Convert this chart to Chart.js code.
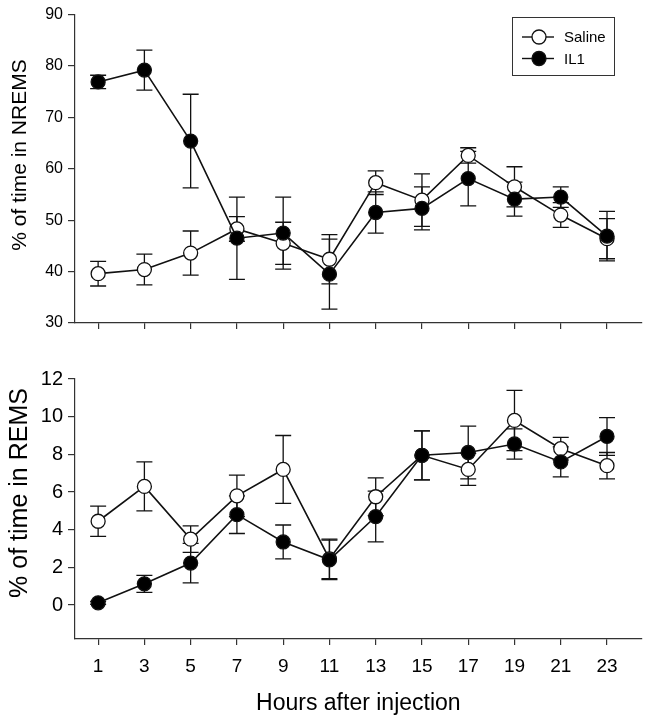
<!DOCTYPE html>
<html>
<head>
<meta charset="utf-8">
<script src="https://cdn.jsdelivr.net/npm/chart.js@4/dist/chart.umd.min.js"></script>
<style>
  body { margin: 0; background: #fff; }
  #wrap { position: relative; width: 650px; height: 720px; }
  #wrap canvas { position: absolute; left: 0; }
</style>
</head>
<body>
<div id="wrap">
  <canvas id="nrem" width="650" height="340" style="top:0"></canvas>
  <canvas id="rem" width="650" height="380" style="top:340px"></canvas>
</div>
<script>
// hours after injection
const hours = [1, 3, 5, 7, 9, 11, 13, 15, 17, 19, 21, 23];

// % of time in NREMS
const nremSaline    = [39.6, 40.4, 43.6, 48.3, 45.5, 42.4, 57.3, 53.9, 62.6, 56.5, 51.0, 46.4];
const nremSalineErr = [2.4, 3.0, 4.3, 2.4, 4.1, 4.8, 2.3, 5.1, 1.5, 3.9, 2.4, 3.9];
const nremIL1       = [76.9, 79.2, 65.4, 46.5, 47.5, 39.5, 51.5, 52.3, 58.1, 54.1, 54.5, 46.9];
const nremIL1Err    = [1.3, 3.9, 9.1, 8.0, 7.0, 6.8, 4.0, 4.2, 5.3, 3.3, 2.0, 4.8];

// % of time in REMS
const remSaline    = [4.45, 6.3, 3.5, 5.8, 7.2, 2.45, 5.75, 7.95, 7.2, 9.8, 8.3, 7.4];
const remSalineErr = [0.8, 1.3, 0.7, 1.1, 1.8, 1.05, 1.0, 1.3, 0.85, 1.6, 0.6, 0.7];
const remIL1       = [0.12, 1.13, 2.23, 4.8, 3.35, 2.4, 4.7, 7.95, 8.1, 8.55, 7.6, 8.95];
const remIL1Err    = [0.08, 0.45, 1.05, 1.0, 0.9, 1.05, 1.35, 1.3, 1.4, 0.8, 0.8, 1.0];

const nremTicks = [30, 40, 50, 60, 70, 80, 90];
const remTicks = [0, 2, 4, 6, 8, 10, 12];
const seriesNames = ['Saline', 'IL1'];

const FONT = "'Liberation Sans', Arial, sans-serif";
const INK = '#111';

function toXY(vals) {
    return vals.map((v, i) => ({ x: hours[i], y: v }));
}

function makeSet(label, vals, errs, filled) {
    return {
        label: label,
        data: toXY(vals),
        errors: errs,
        borderColor: INK,
        borderWidth: 1.6,
        pointRadius: 7,
        pointBorderWidth: 1.3,
        pointBorderColor: INK,
        pointBackgroundColor: filled ? '#000' : '#fff',
        order: filled ? 1 : 2,
        tension: 0
    };
}

// vertical error bars with caps, drawn under the points
const errorBars = {
    id: 'errorBars',
    beforeDatasetsDraw(chart) {
        const ctx = chart.ctx;
        const y = chart.scales.y;
        ctx.save();
        ctx.strokeStyle = INK;
        ctx.lineWidth = 1.3;
        chart.data.datasets.forEach((ds, di) => {
            const meta = chart.getDatasetMeta(di);
            meta.data.forEach((pt, i) => {
                const v = ds.data[i].y, e = ds.errors[i];
                const top = y.getPixelForValue(v + e);
                const bot = y.getPixelForValue(v - e);
                ctx.beginPath();
                ctx.moveTo(pt.x, top); ctx.lineTo(pt.x, bot);
                ctx.moveTo(pt.x - 8, top); ctx.lineTo(pt.x + 8, top);
                ctx.moveTo(pt.x - 8, bot); ctx.lineTo(pt.x + 8, bot);
                ctx.stroke();
            });
        });
        ctx.restore();
    }
};

// boxed legend in the upper right of the top panel
const boxLegend = {
    id: 'boxLegend',
    afterDraw(chart) {
        if (!chart.options.plugins.boxLegend) return;
        const ctx = chart.ctx;
        ctx.save();
        ctx.strokeStyle = '#333';
        ctx.lineWidth = 1;
        ctx.strokeRect(512.5, 17.5, 102, 58);
        seriesNames.forEach((name, i) => {
            const cy = 37 + i * 21.5;
            ctx.strokeStyle = INK;
            ctx.lineWidth = 1.4;
            ctx.beginPath();
            ctx.moveTo(522, cy); ctx.lineTo(554, cy);
            ctx.stroke();
            ctx.beginPath();
            ctx.arc(539, cy, 7, 0, Math.PI * 2);
            ctx.fillStyle = i === 0 ? '#fff' : '#000';
            ctx.fill();
            ctx.lineWidth = 1.3;
            ctx.stroke();
            ctx.fillStyle = '#000';
            ctx.font = '15px ' + FONT;
            ctx.textBaseline = 'middle';
            ctx.fillText(name, 564, cy + 1);
        });
        ctx.restore();
    }
};

// rotated y-axis title, placed a bit above the middle like the original
const yTitle = {
    id: 'yTitle',
    afterDraw(chart) {
        const t = chart.options.plugins.yTitle;
        if (!t) return;
        const ctx = chart.ctx;
        ctx.save();
        ctx.translate(t.x, t.y);
        ctx.rotate(-Math.PI / 2);
        ctx.font = t.size + 'px ' + FONT;
        ctx.fillStyle = '#000';
        ctx.textAlign = 'center';
        ctx.textBaseline = 'alphabetic';
        ctx.fillText(t.text, 0, 0);
        ctx.restore();
    }
};

function axisGrid(len) {
    return { display: true, drawOnChartArea: false, drawTicks: true, tickLength: len, color: '#333', lineWidth: 1.2 };
}

function makePanel(id, salineVals, salineErr, il1Vals, il1Err, yOpt) {
    const showX = yOpt.showX;
    return new Chart(document.getElementById(id), {
        type: 'line',
        data: {
            datasets: [
                makeSet(seriesNames[0], salineVals, salineErr, false),
                makeSet(seriesNames[1], il1Vals, il1Err, true)
            ]
        },
        options: {
            responsive: false,
            animation: false,
            layout: { padding: { top: yOpt.padTop, right: 7, left: 0, bottom: 0 } },
            scales: {
                x: {
                    type: 'linear',
                    min: 0,
                    max: 24.5,
                    afterBuildTicks: s => { s.ticks = hours.map(h => ({ value: h })); },
                    afterFit: s => { s.height = yOpt.xHeight; },
                    grid: axisGrid(6),
                    border: { display: true, color: '#333', width: 1.2 },
                    ticks: {
                        display: showX,
                        padding: 10,
                        color: '#000',
                        font: { family: FONT, size: 19 }
                    },
                    title: {
                        display: showX,
                        text: 'Hours after injection',
                        color: '#000',
                        font: { family: FONT, size: 23 },
                        padding: { top: 0, bottom: 3 }
                    }
                },
                y: {
                    min: yOpt.min,
                    max: yOpt.max,
                    afterBuildTicks: s => { s.ticks = yOpt.ticks.map(v => ({ value: v })); },
                    afterFit: s => { s.width = 75; },
                    grid: axisGrid(7),
                    border: { display: true, color: '#333', width: 1.2 },
                    ticks: {
                        padding: 5,
                        color: '#000',
                        font: { family: FONT, size: yOpt.tickSize }
                    }
                }
            },
            plugins: {
                legend: { display: false },
                tooltip: { enabled: false },
                boxLegend: yOpt.legend,
                yTitle: yOpt.title
            }
        },
        plugins: [errorBars, boxLegend, yTitle]
    });
}

makePanel('nrem', nremSaline, nremSalineErr, nremIL1, nremIL1Err, {
    min: 30, max: 90, ticks: nremTicks,
    title: { text: '% of time in NREMS', size: 21, x: 26, y: 155 },
    tickSize: 16, padTop: 12, xHeight: 17,
    showX: false, legend: true
});

makePanel('rem', remSaline, remSalineErr, remIL1, remIL1Err, {
    min: -1.8, max: 12, ticks: remTicks,
    title: { text: '% of time in REMS', size: 25, x: 27, y: 153 },
    tickSize: 20, padTop: 39, xHeight: 81,
    showX: true, legend: false
});
</script>
</body>
</html>
